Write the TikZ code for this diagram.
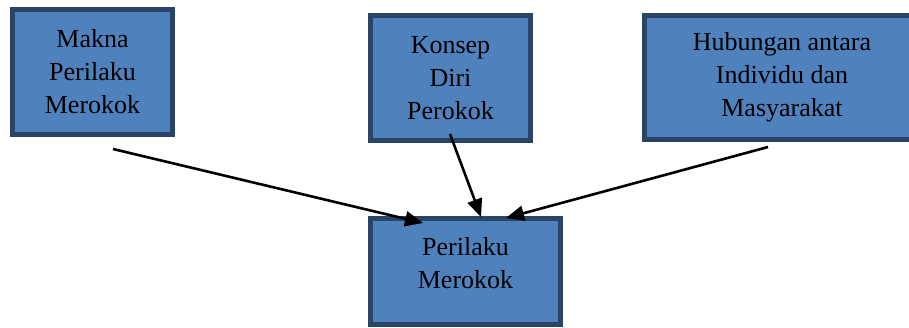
\documentclass[tikz,border=0pt]{standalone}
\usepackage{fontspec}
\setmainfont{Liberation Serif}
\usetikzlibrary{arrows.meta,calc}
\definecolor{boxfill}{HTML}{4F81BD}
\definecolor{boxline}{HTML}{2A4468}
\tikzset{
  box/.style={draw=boxline, fill=boxfill, line width=4.6pt, inner sep=0pt, outer sep=0pt,
    align=center, font=\fontsize{26}{33}\selectfont},
  conn/.style={line width=2.6pt, -{Triangle[length=18pt,width=15pt]}}
}
\begin{document}
\begin{tikzpicture}[x=1pt,y=-1pt]
\useasboundingbox (0,0) rectangle (909,327);
\node[box, minimum width=160pt, minimum height=125pt] (a) at (92.5,72) {Makna\\Perilaku\\Merokok};
\node[box, minimum width=160pt, minimum height=125pt] (b) at (450.5,78) {Konsep\\Diri\\Perokok};
\node[box, minimum width=275pt, minimum height=124pt] (c) at (782,77.5) {Hubungan antara\\Individu dan\\Masyarakat};
\node[box, minimum width=190pt, minimum height=106pt, text depth=18pt] (out) at (465.5,271.5) {Perilaku\\Merokok};
\coordinate (sa) at (113,149);
\coordinate (sb) at (450,134);
\coordinate (sc) at (768,147);
\draw[conn] (sa) -- ($(out.north west)+(52.5,4.5)$);
\draw[conn] (sb) -- ($(out.north west)+(110.5,-1.5)$);
\draw[conn] (sc) -- ($(out.north west)+(135.5,-0.5)$);
\end{tikzpicture}
\end{document}
